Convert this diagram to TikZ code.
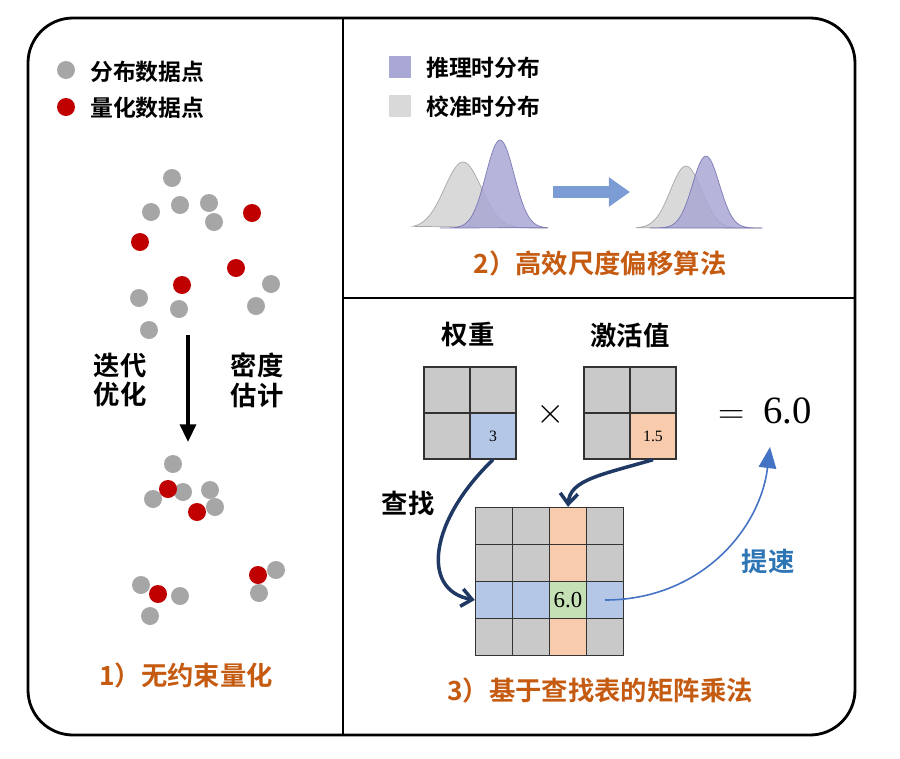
\documentclass[tikz,border=0pt]{standalone}
\usepackage{fontspec}
\setmainfont{Liberation Serif}
\newfontfamily\cjk{Noto Sans CJK SC}[BoldFont={* Bold}]
\usetikzlibrary{arrows.meta,positioning}
\definecolor{ptgrey}{HTML}{A6A6A6}
\definecolor{ptred}{HTML}{C00000}
\definecolor{lblorange}{HTML}{C55A11}
\definecolor{distpurple}{HTML}{A9A7D3}
\definecolor{distedge}{HTML}{6E6BAE}
\definecolor{distgrey}{HTML}{D9D9D9}
\definecolor{cellgrey}{HTML}{C9C9C9}
\definecolor{cellblue}{HTML}{B4C7E7}
\definecolor{cellorange}{HTML}{F8CBAD}
\definecolor{cellgreen}{HTML}{C5E0B4}
\definecolor{arrblue}{HTML}{4472C4}
\definecolor{navy}{HTML}{1F3864}
\definecolor{speedblue}{HTML}{2E75B6}

\begin{document}
\begin{tikzpicture}[x=0.02cm,y=-0.02cm,
  gpt/.style={circle,fill=ptgrey,minimum size=18\unitlength,inner sep=0pt},
  rpt/.style={circle,fill=ptred,minimum size=18\unitlength,inner sep=0pt},
  cn/.style={font=\cjk\bfseries\fontsize{15}{17}\selectfont},
  leg/.style={font=\cjk\bfseries\fontsize{13}{15}\selectfont,anchor=west},
  paneltitle/.style={font=\cjk\bfseries\fontsize{15}{17}\selectfont,text=lblorange},
  cell/.style={draw=black!80,line width=0.8pt,minimum size=46\unitlength,inner sep=0pt,fill=cellgrey},
  lut/.style={draw=black!80,line width=0.8pt,minimum size=37\unitlength,inner sep=0pt,fill=cellgrey}]
\setlength{\unitlength}{0.02cm}
\useasboundingbox (0,0) rectangle (900,758);
% frame
\draw[line width=1.6pt,rounded corners=45\unitlength] (28,18) rectangle (855,735);
\draw[line width=1.6pt] (343,18) -- (343,735);
\draw[line width=1.6pt] (343,298) -- (855,298);

% panel 1
\node[gpt] (lg1) at (66,70) {};
\node[rpt] (lg2) at (66,107) {};
\node[leg] (lt1) at (84,72) {分布数据点};
\node[leg] (lt2) at (84,108) {量化数据点};
\foreach \x/\y [count=\i] in {172/178,151/212,180/205,209/203,214/222,139/298,179/309,149/330,271/284,256/306}
  \node[gpt] (a\i) at (\x,\y) {};
\foreach \x/\y [count=\i] in {252/213,140/242,182/285,236/268}
  \node[rpt] (b\i) at (\x,\y) {};
\coordinate (arrtop) at (188,335);
\coordinate (arrbot) at (188,442);
\draw[line width=2pt,-{Triangle[length=10pt,width=9pt]}] (arrtop) -- (arrbot);
\node[cn,align=center] (iter) at (120,380) {迭代\\优化};
\node[cn,align=center] (dens) at (257,380) {密度\\估计};
\foreach \x/\y [count=\i] in {173/464,153/499,183/492,210/490,215/507,141/585,180/596,150/616,276/570,259/593}
  \node[gpt] (c\i) at (\x,\y) {};
\foreach \x/\y [count=\i] in {168/489,197/512,158/594,258/575}
  \node[rpt] (d\i) at (\x,\y) {};
\node[paneltitle] (cap1) at (186,675) {1）无约束量化};

% panel 2
\node[fill=distpurple,minimum size=22\unitlength,inner sep=0pt] (lsq1) at (400,67) {};
\node[fill=distgrey,minimum size=22\unitlength,inner sep=0pt] (lsq2) at (400,106) {};
\node[leg] (lt3) at (420,68) {推理时分布};
\node[leg] (lt4) at (420,107) {校准时分布};
\begin{scope}[shift={(0,228)}]
\fill[distgrey,draw=gray!70] plot[domain=413:548,samples=60] (\x,{-66*exp(-((\x-463)/26)^2)}) -- cycle;
\fill[distpurple,opacity=0.85,draw=distedge] plot[domain=440:548,samples=60] (\x,{-88*exp(-((\x-500)/20)^2)}) -- cycle;
\fill[distgrey,draw=gray!70] plot[domain=636:762,samples=60] (\x,{-62*exp(-((\x-686)/22)^2)}) -- cycle;
\fill[distpurple,opacity=0.85,draw=distedge] plot[domain=650:762,samples=60] (\x,{-72*exp(-((\x-706)/19)^2)}) -- cycle;
\end{scope}
\coordinate (sa) at (553,192);
\coordinate (sb) at (630,192);
\draw[line width=7pt,-{Triangle[length=12pt,width=16pt]},color=arrblue!70] (sa) -- (sb);
\node[paneltitle] (cap2) at (600,263) {2）高效尺度偏移算法};

% panel 3
\node[cn] (wt) at (468,335) {权重};
\node[cn] (act) at (630,335) {激活值};
\foreach \r in {0,1} \foreach \c in {0,1} {
  \node[cell] (w\r\c) at ({447+46*\c},{390+46*\r}) {};
  \node[cell] (v\r\c) at ({607+46*\c},{390+46*\r}) {};
}
\node[cell,fill=cellblue,font=\fontsize{9}{10}\selectfont] (w11) at (493,436) {\raisebox{-4pt}{3}};
\node[cell,fill=cellorange,font=\fontsize{9}{10}\selectfont] (v11) at (653,436) {\raisebox{-4pt}{1.5}};
\node[font=\fontsize{22}{24}\selectfont] (times) at (551,414) {$\times$};
\node[font=\fontsize{22}{24}\selectfont] (res) at (765,411) {$=$\ \ 6.0};
\foreach \r in {0,...,3} \foreach \c in {0,...,3}
  \node[lut] (t\r\c) at ({494+37*\c},{526+37*\r}) {};
\foreach \r in {0,1,3} \node[lut,fill=cellorange] (t\r2) at (568,{526+37*\r}) {};
\foreach \c in {0,1,3} \node[lut,fill=cellblue] (t2\c) at ({494+37*\c},600) {};
\node[lut,fill=cellgreen,font=\fontsize{13}{15}\selectfont] (t22) at (568,600) {6.0};
\node[cn] (find) at (408,503) {查找};
\node[cn,text=speedblue] (speed) at (768,561) {提速};
\draw[navy,line width=2pt,-{Straight Barb[length=6pt,width=10pt]}] (w11.south) .. controls (430,520) and (420,590) .. (t20.west);
\draw[navy,line width=2pt,-{Straight Barb[length=6pt,width=10pt]}] (v11.south) .. controls (600,475) and (570,480) .. (t02.north);
\draw[arrblue,line width=0.9pt,-{Triangle[length=12pt,width=10pt]}] (t23.center) .. controls (700,600) and (760,530) .. (770,447);
\node[paneltitle] (cap3) at (600,690) {3）基于查找表的矩阵乘法};
\end{tikzpicture}
\end{document}
